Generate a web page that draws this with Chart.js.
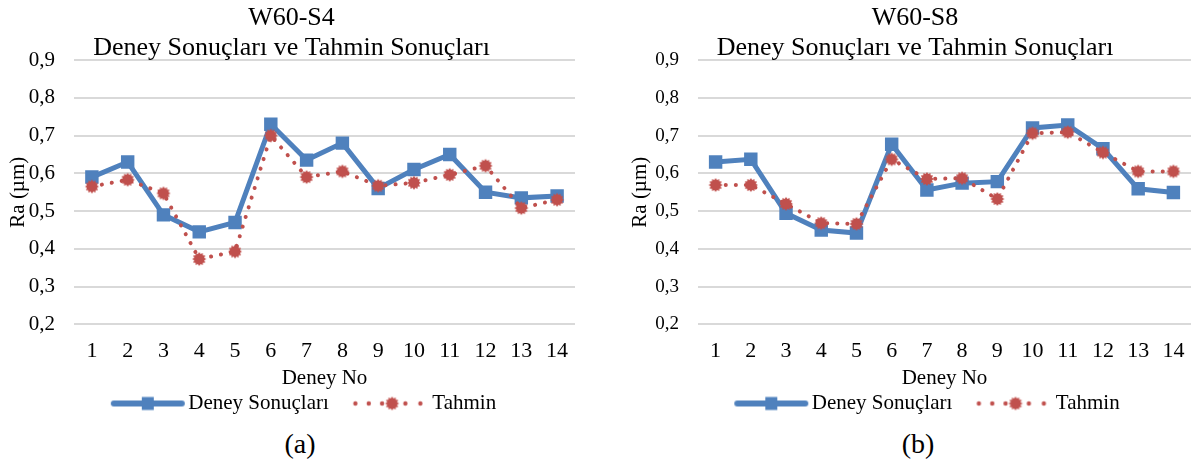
<!DOCTYPE html>
<html>
<head>
<meta charset="utf-8">
<script src="https://cdn.jsdelivr.net/npm/chart.js@4.4.1/dist/chart.umd.min.js"></script>
<style>
  body { margin: 0; background: #fff; }
  #sayfa { position: relative; width: 1202px; height: 467px; overflow: hidden; background: #fff; }
  canvas { position: absolute; top: 0; }
  .alt { position: absolute; top: 428px; width: 100px; height: 34px; line-height: 34px;
         text-align: center; font: 28px "Liberation Serif", "Times New Roman", serif; color: #000; }
</style>
</head>
<body>
<div id="sayfa">
  <canvas id="grafikA" width="600" height="424" style="left:0px"></canvas>
  <canvas id="grafikB" width="602" height="424" style="left:600px"></canvas>
  <div class="alt" style="left:250px">(a)</div>
  <div class="alt" style="left:868px">(b)</div>
</div>
<script>
// veriler
const deneyNo = ["1", "2", "3", "4", "5", "6", "7", "8", "9", "10", "11", "12", "13", "14"];
const s4Deney = [0.59, 0.63, 0.49, 0.445, 0.47, 0.73, 0.635, 0.68, 0.56, 0.61, 0.65, 0.55, 0.535, 0.54];
const s4Tahmin = [0.565, 0.583, 0.547, 0.373, 0.393, 0.70, 0.59, 0.605, 0.567, 0.575, 0.596, 0.62, 0.508, 0.53];
const s8Deney = [0.63, 0.637, 0.494, 0.45, 0.442, 0.677, 0.556, 0.574, 0.578, 0.72, 0.728, 0.665, 0.559, 0.549];
const s8Tahmin = [0.569, 0.569, 0.519, 0.468, 0.466, 0.637, 0.585, 0.587, 0.532, 0.706, 0.709, 0.655, 0.605, 0.605];
const yMin = 0.2, yMax = 0.9, yAdim = 0.1;

const mavi = "#4F81BD";
const kirmizi = "#C0504D";
const yazi = "'Liberation Serif', 'Times New Roman', serif";

// yıldız biçimli işaret (Excel "star" benzeri)
function yildiz(dis, ic, uc) {
  const c = document.createElement("canvas");
  const s = Math.ceil(dis * 2 + 2);
  c.width = s; c.height = s;
  const ctx = c.getContext("2d");
  ctx.fillStyle = kirmizi;
  ctx.beginPath();
  for (let i = 0; i < uc * 2; i++) {
    const r = i % 2 === 0 ? dis : ic;
    const a = Math.PI * i / uc;
    ctx.lineTo(s / 2 + r * Math.cos(a), s / 2 + r * Math.sin(a));
  }
  ctx.closePath();
  ctx.fill();
  return c;
}
const yildizIsaret = yildiz(7, 5.2, 12);

// lejant simgeleri: çizgi + işaret
function lejantMavi() {
  const c = document.createElement("canvas");
  c.width = 111; c.height = 16;
  const ctx = c.getContext("2d");
  ctx.strokeStyle = mavi; ctx.lineWidth = 6; ctx.lineCap = "round";
  ctx.beginPath(); ctx.moveTo(37, 8); ctx.lineTo(105, 8); ctx.stroke();
  ctx.fillStyle = mavi;
  ctx.fillRect(65, 1.5, 12, 13);
  return c;
}
function lejantKirmizi() {
  const c = document.createElement("canvas");
  c.width = 111; c.height = 16;
  const ctx = c.getContext("2d");
  ctx.fillStyle = kirmizi;
  [34.5, 47.9, 61.2, 84.5, 99.5].forEach(x => {
    ctx.beginPath(); ctx.arc(x, 8, 2.2, 0, Math.PI * 2); ctx.fill();
  });
  ctx.drawImage(yildizIsaret, 71.2 - yildizIsaret.width / 2, 8 - yildizIsaret.height / 2);
  return c;
}
const simgeMavi = lejantMavi();
const simgeKirmizi = lejantKirmizi();

function grafikCiz(id, baslik, deney, tahmin, solBosluk, sagBosluk, yGenislik, yTikBoyut) {
  new Chart(document.getElementById(id), {
    type: "line",
    data: {
      labels: deneyNo,
      datasets: [
        {
          label: "Deney Sonuçları",
          data: deney,
          borderColor: mavi,
          backgroundColor: mavi,
          borderWidth: 5,
          tension: 0,
          pointStyle: "rect",
          pointRadius: 9.5,
          pointBackgroundColor: mavi,
          pointBorderColor: mavi,
          pointBorderWidth: 0,
          order: 1
        },
        {
          label: "Tahmin",
          data: tahmin,
          borderColor: kirmizi,
          backgroundColor: kirmizi,
          borderWidth: 4,
          borderDash: [0.1, 10],
          borderCapStyle: "round",
          tension: 0,
          pointStyle: yildizIsaret,
          pointRadius: 7,
          order: 0
        }
      ]
    },
    options: {
      responsive: false,
      animation: false,
      layout: { padding: { left: solBosluk, right: sagBosluk, top: 0, bottom: 0 } },
      plugins: {
        title: {
          display: true,
          text: baslik,
          color: "#000",
          font: { family: yazi, size: 26, weight: "normal", lineHeight: 30 / 26 },
          padding: { top: 3, bottom: -3 }
        },
        legend: {
          position: "bottom",
          labels: {
            usePointStyle: true,
            pointStyleWidth: 91,
            padding: 2,
            color: "#000",
            font: { family: yazi, size: 21 },
            generateLabels: function() {
              return [
                { text: "Deney Sonuçları", pointStyle: simgeMavi, fillStyle: mavi, strokeStyle: mavi, lineWidth: 0, hidden: false, datasetIndex: 0 },
                { text: "Tahmin", pointStyle: simgeKirmizi, fillStyle: kirmizi, strokeStyle: kirmizi, lineWidth: 0, hidden: false, datasetIndex: 1 }
              ];
            }
          }
        },
        tooltip: { enabled: false }
      },
      scales: {
        x: {
          offset: true,
          afterFit: function(scale) { scale.height = 66.6; },
          grid: { display: false, drawTicks: false },
          border: { display: false },
          ticks: { color: "#000", padding: 14, font: { family: yazi, size: 22 } },
          title: {
            display: true,
            text: "Deney No",
            color: "#000",
            font: { family: yazi, size: 21 },
            padding: { top: 1, bottom: 0 }
          }
        },
        y: {
          min: yMin,
          max: yMax,
          afterFit: function(scale) { scale.width = yGenislik; },
          grid: { color: "#d9d9d9", lineWidth: 2, drawTicks: false },
          border: { display: false },
          ticks: {
            stepSize: yAdim,
            color: "#000",
            padding: 19,
            font: { family: yazi, size: yTikBoyut },
            callback: function(value) {
              return value.toFixed(1).replace(".", ",");
            }
          },
          title: {
            display: true,
            text: "Ra (µm)",
            color: "#000",
            font: { family: yazi, size: 21, lineHeight: 1 },
            padding: { top: 0, bottom: 0 }
          }
        }
      }
    }
  });
}

grafikCiz("grafikA", ["W60-S4", "Deney Sonuçları ve Tahmin Sonuçları"], s4Deney, s4Tahmin, 8, 25, 66, 21);
grafikCiz("grafikB", ["W60-S8", "Deney Sonuçları ve Tahmin Sonuçları"], s8Deney, s8Tahmin, 30, 2, 68, 19);
</script>
</body>
</html>
